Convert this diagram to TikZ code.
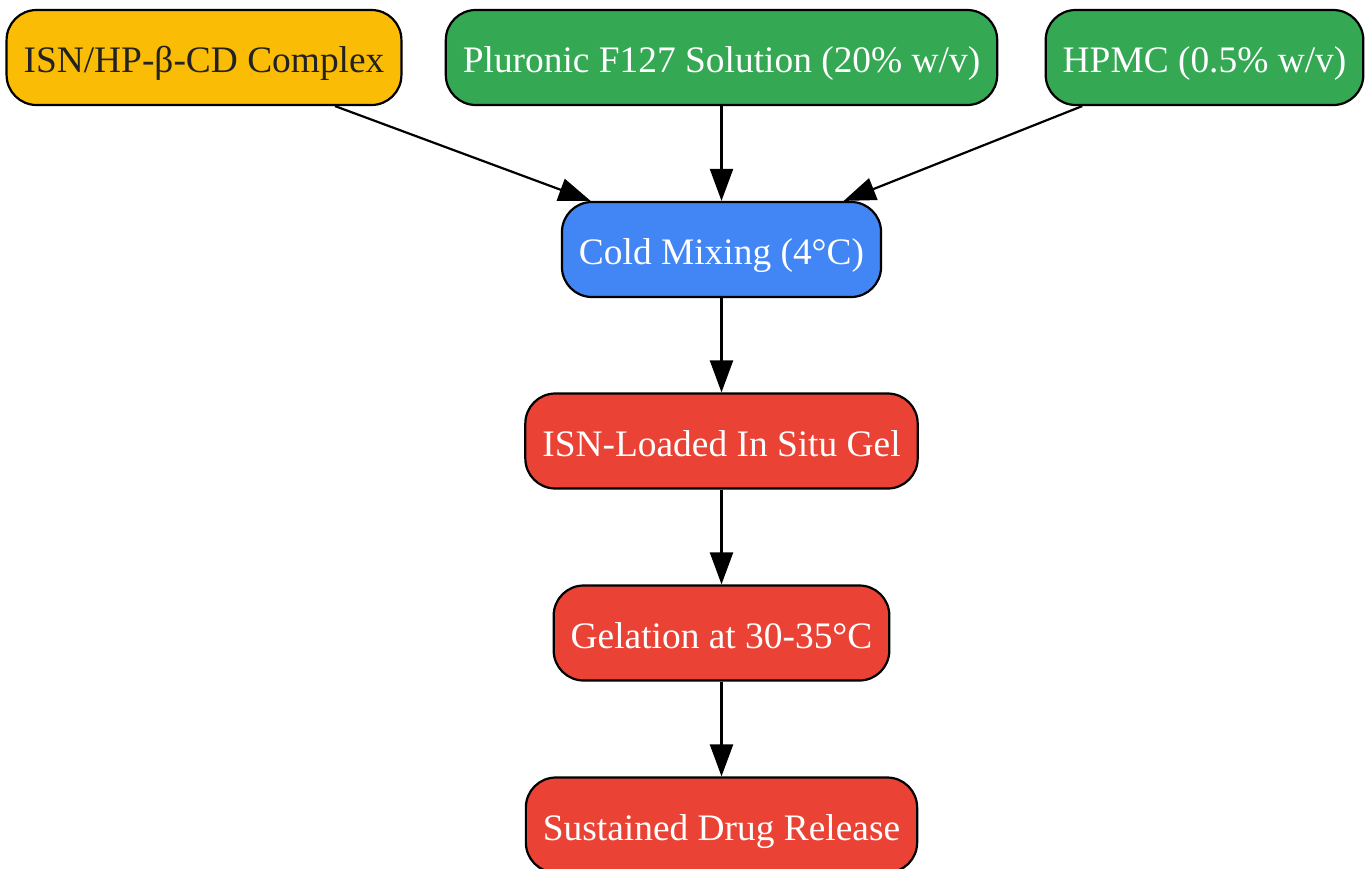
\documentclass[tikz,border=0pt]{standalone}
\usepackage{fontspec}
\setmainfont{Liberation Serif}
\usepackage{xcolor}
\usetikzlibrary{arrows.meta}
\definecolor{gyellow}{HTML}{FBBC05}
\definecolor{ggreen}{HTML}{34A853}
\definecolor{gblue}{HTML}{4285F4}
\definecolor{gred}{HTML}{EA4335}
\definecolor{darktext}{HTML}{222222}
\tikzset{
  stagebox/.style={draw=black, line width=1.1pt, rounded corners=15pt,
    minimum height=47.5pt, inner xsep=8.5pt, text=white,
    text height=19pt, text depth=4pt,
    font=\fontsize{18.7}{22}\selectfont},
  flow/.style={-{Triangle[length=16pt,width=11.5pt]}, line width=1.1pt}
}

\begin{document}
\begin{tikzpicture}[x=0.5pt,y=-0.5pt]
    \useasboundingbox (0,0) rectangle (1369,868);
    \node [stagebox, fill=gyellow, text=darktext] (complex) at (204,57.5) {ISN/HP-β-CD Complex};
    \node [stagebox, fill=ggreen] (pluronic) at (721.5,57.5) {Pluronic F127 Solution (20\% w/v)};
    \node [stagebox, fill=ggreen] (hpmc) at (1204.5,57.5) {HPMC (0.5\% w/v)};
    \node [stagebox, fill=gblue] (mixing) at (721.5,249.5) {Cold Mixing (4°C)};
    \node [stagebox, fill=gred] (gel) at (721.5,441) {ISN-Loaded In Situ Gel};
    \node [stagebox, fill=gred] (gelation) at (721.5,633) {Gelation at 30-35°C};
    \node [stagebox, fill=gred] (release) at (721.5,825) {Sustained Drug Release};
    \draw [flow] (complex) -- (mixing);
    \draw [flow] (pluronic) -- (mixing);
    \draw [flow] (hpmc) -- (mixing);
    \draw [flow] (mixing) -- (gel);
    \draw [flow] (gel) -- (gelation);
    \draw [flow] (gelation) -- (release);
  \end{tikzpicture}
\end{document}
